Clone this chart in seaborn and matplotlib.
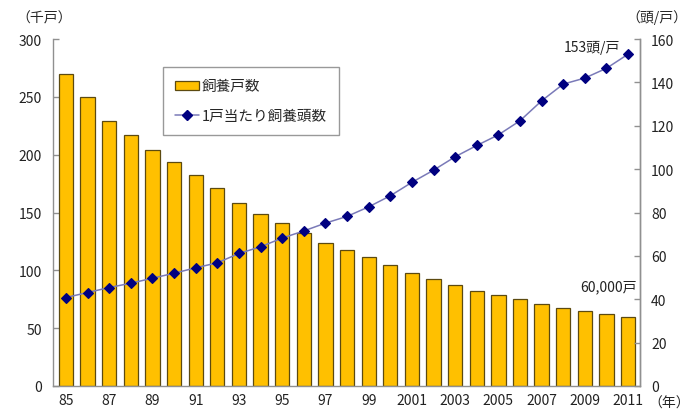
import numpy as np
import pandas as pd
import matplotlib
matplotlib.use("Agg")
import matplotlib.pyplot as plt
from matplotlib.patches import Patch
from matplotlib.lines import Line2D
import seaborn as sns

# 飼養戸数（千戸）と1戸当たり飼養頭数（頭/戸）
years = ["85", "86", "87", "88", "89", "90", "91", "92", "93", "94", "95", "96",
         "97", "98", "99", "2000", "2001", "2002", "2003", "2004", "2005", "2006",
         "2007", "2008", "2009", "2010", "2011"]
households = [270, 250, 229, 217, 204, 194, 182, 171, 158, 149, 140.5, 132,
              123.5, 117.5, 111.5, 105, 98, 92.5, 87, 82, 79, 75.5,
              70.5, 67.5, 65, 62.5, 60]
heads_per_household = [40.8, 43.1, 45.4, 47.4, 49.7, 52.0, 54.5, 56.8, 61.1, 64.2,
                       68.2, 71.5, 75.1, 78.2, 82.6, 87.7, 93.9, 99.5, 105.7,
                       110.9, 115.8, 122.3, 131.5, 139.2, 142.0, 146.5, 153]
left_ticks = [0, 50, 100, 150, 200, 250, 300]
right_ticks = [0, 20, 40, 60, 80, 100, 120, 140, 160]

sns.set_theme(style="white")
plt.rcParams["font.family"] = ["Noto Sans CJK JP", "DejaVu Sans"]

df = pd.DataFrame({"year": years, "households": households,
                   "heads": heads_per_household})

bar_color = "#FFC000"
bar_edge = "#5C4A10"
line_color = "#7A7AB8"
marker_color = "#000080"
axis_gray = "#909090"

fig = plt.figure(figsize=(6.94, 4.14), dpi=100)
ax = fig.add_axes([53 / 694, 27 / 414, 587 / 694, 347 / 414])

sns.barplot(data=df, x="year", y="households", ax=ax, color=bar_color,
            edgecolor=bar_edge, linewidth=0.9, width=0.66, saturation=1)

ax2 = ax.twinx()
sns.pointplot(data=df, x="year", y="heads", ax=ax2, color=marker_color,
              markers="D", linestyles="-", markersize=5, linewidth=1.1)
for ln in ax2.lines:
    ln.set_color(line_color)
    ln.set_markerfacecolor(marker_color)
    ln.set_markeredgecolor(marker_color)

ax.set_ylim(0, 300)
ax2.set_ylim(0, 160)
ax.set_xlim(-0.6, len(years) - 0.45)
ax2.set_xlim(-0.6, len(years) - 0.45)

ax.set_yticks(left_ticks)
ax.set_yticklabels([str(t) for t in left_ticks])
ax2.set_yticks(right_ticks)
ax2.set_yticklabels([str(t) for t in right_ticks])

tick_pos = list(range(0, len(years), 2))
ax.set_xticks(tick_pos)
ax.set_xticklabels([years[i] for i in tick_pos])

for a in (ax, ax2):
    a.set_xlabel("")
    a.set_ylabel("")
    a.spines["top"].set_visible(False)
    for s in ("left", "right", "bottom"):
        a.spines[s].set_color(axis_gray)
        a.spines[s].set_linewidth(1.0)
    a.tick_params(axis="both", labelsize=10, colors="#222222")

ax.tick_params(axis="y", direction="in", length=4, width=1, color=axis_gray, left=True, pad=8)
ax.tick_params(axis="x", length=0, pad=5)
ax2.tick_params(axis="y", direction="in", length=4, width=1, color=axis_gray, right=True, pad=8)
ax2.spines["left"].set_visible(False)
ax2.spines["bottom"].set_visible(False)

# axis unit captions
fig.text(44 / 694, 1 - 18 / 414, "（千戸）", ha="center", va="center", fontsize=10)
fig.text(657 / 694, 1 - 18 / 414, "（頭/戸）", ha="center", va="center", fontsize=10)
fig.text(669 / 694, 1 - 404 / 414, "（年）", ha="center", va="center", fontsize=10)

# end-value annotations
ax2.annotate("153頭/戸", xy=(len(years) - 1, heads_per_household[-1]),
             xytext=(-6, 5), textcoords="offset points", ha="right", va="center",
             fontsize=10, color="#222222")
ax.annotate("60,000戸", xy=(len(years) - 1, households[-1]),
            xytext=(6, 22), textcoords="offset points", ha="right", va="center",
            fontsize=10, color="#222222")

handles = [Patch(facecolor=bar_color, edgecolor=bar_edge, linewidth=0.9),
           Line2D([0], [0], color=line_color, marker="D", markersize=5,
                  markerfacecolor=marker_color, markeredgecolor=marker_color, lw=1.1)]
leg = ax2.legend(handles, ["飼養戸数", "1戸当たり飼養頭数"],
                 loc="upper left", bbox_to_anchor=(163 / 694, 1 - 68 / 414),
                 bbox_transform=fig.transFigure, fontsize=10.5, frameon=True,
                 fancybox=False, handlelength=1.6, handleheight=0.55,
                 handletextpad=0.2, labelspacing=1.05, borderpad=0.85,
                 borderaxespad=0)
leg.get_frame().set_edgecolor("#808080")
leg.get_frame().set_linewidth(1.0)

fig.savefig("out.png", dpi=100)
